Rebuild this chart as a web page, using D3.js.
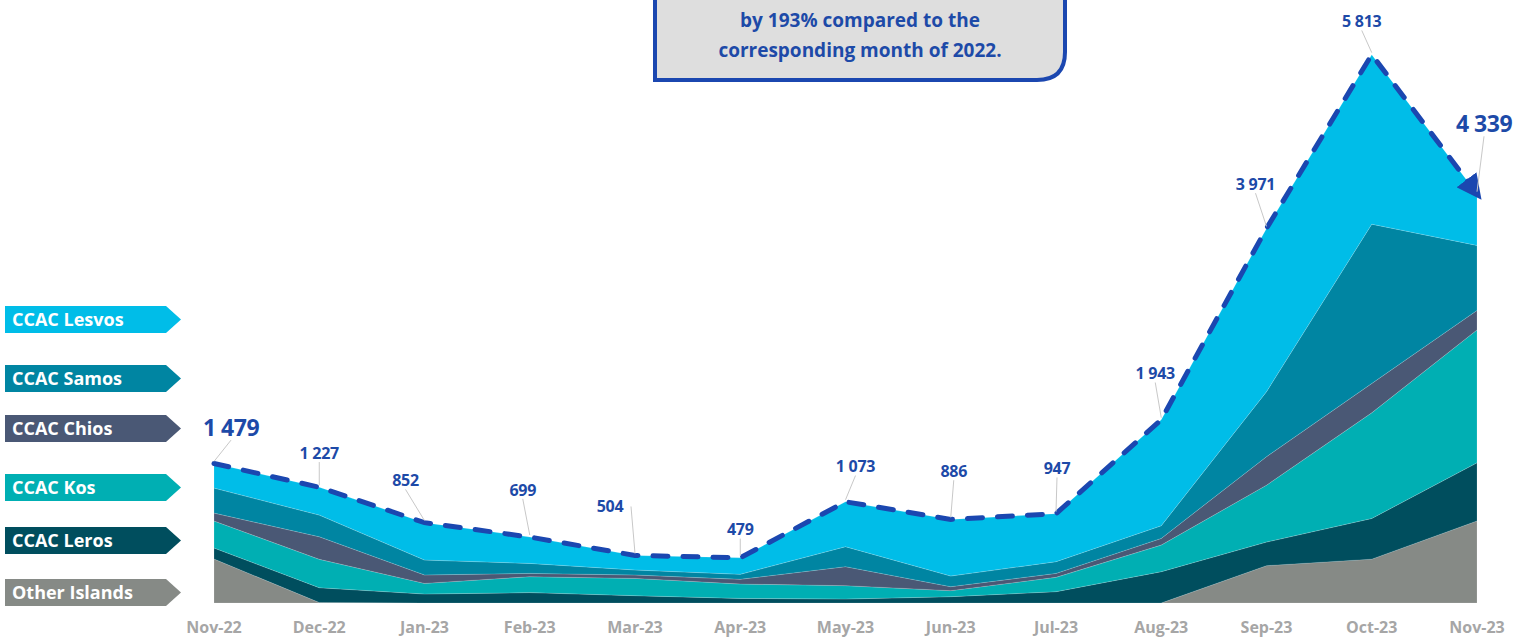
<!DOCTYPE html>
<html>
<head>
<meta charset="utf-8">
<script src="https://cdn.jsdelivr.net/npm/d3@7"></script>
<style>
  html, body { margin: 0; padding: 0; background: #fff; }
  svg { display: block; font-family: "Open Sans", Lato, sans-serif; }
</style>
</head>
<body>
<svg id="chart" width="1515" height="639"></svg>
<script>
// months on the x axis
const months = ["Nov-22", "Dec-22", "Jan-23", "Feb-23", "Mar-23", "Apr-23", "May-23",
                "Jun-23", "Jul-23", "Aug-23", "Sep-23", "Oct-23", "Nov-23"];

// series (bottom to top of the stack)
const otherIslands = [466, 5, 0, 0, 0, 0, 0, 0, 0, 0, 396, 465, 870];
const ccacLeros    = [117, 157, 95, 110, 78, 49, 42, 67, 120, 332, 250, 431, 616];
const ccacKos      = [286, 301, 113, 169, 183, 152, 142, 64, 152, 282, 603, 1120, 1409];
const ccacChios    = [84, 239, 89, 35, 36, 50, 201, 42, 42, 71, 302, 311, 207];
const ccacSamos    = [265, 230, 158, 106, 53, 53, 212, 113, 124, 134, 689, 1689, 689];
const ccacLesvos   = [261, 295, 397, 279, 154, 175, 476, 600, 509, 1124, 1731, 1797, 548];

// totals shown above the line
const totals = [1479, 1227, 852, 699, 504, 479, 1073, 886, 947, 1943, 3971, 5813, 4339];

const seriesNames  = ["Other Islands", "CCAC Leros", "CCAC Kos", "CCAC Chios", "CCAC Samos", "CCAC Lesvos"];
const seriesValues = [otherIslands, ccacLeros, ccacKos, ccacChios, ccacSamos, ccacLesvos];
const seriesColors = ["#868a86", "#004e5e", "#00afb3", "#4a5875", "#0085a2", "#00bde8"];

// label placement offsets (dx, dy of label centre from the point)
const labelOffsets = [[17, -36], [0, -34], [-19, -42], [-7, -47], [-25, -49], [0, -28],
                      [10, -35], [3, -48], [1, -45], [-6, -46], [-11, -44], [-10, -33], [7, -70]];
const bigLabels = new Set([0, 12]);

const svg = d3.select("#chart");

const x = d3.scalePoint().domain(months).range([214, 1477]);
const y = d3.scaleLinear().domain([0, 6000]).range([603, 37]);

const fmt = v => d3.format(",")(v).replace(/,/g, " ");

// build rows for d3.stack
const rows = months.map((m, i) => {
  const r = { month: m };
  seriesNames.forEach((n, k) => { r[n] = seriesValues[k][i]; });
  return r;
});
const stacked = d3.stack().keys(seriesNames)(rows);

const area = d3.area()
  .x(d => x(d.data.month))
  .y0(d => y(d[0]))
  .y1(d => y(d[1]));

svg.append("g")
  .selectAll("path")
  .data(stacked)
  .enter().append("path")
  .attr("d", area)
  .attr("fill", (d, i) => seriesColors[i])
  .attr("stroke", "rgba(255,255,255,0.25)")
  .attr("stroke-width", 0.6);

// total line (dashed) with arrow at the end
const defs = svg.append("defs");
defs.append("marker")
  .attr("id", "arrow")
  .attr("viewBox", "0 0 10 10")
  .attr("refX", 7).attr("refY", 5)
  .attr("markerWidth", 5).attr("markerHeight", 5)
  .attr("markerUnits", "strokeWidth")
  .attr("orient", "auto")
  .append("path")
  .attr("d", "M0,0 L10,5 L0,10 Z")
  .attr("fill", "#1b47b0");

const line = d3.line()
  .x((d, i) => x(months[i]))
  .y(d => y(d));

svg.append("path")
  .datum(totals)
  .attr("d", line)
  .attr("fill", "none")
  .attr("stroke", "#1b47b0")
  .attr("stroke-width", 5)
  .attr("stroke-linecap", "round")
  .attr("stroke-dasharray", "15 15")
  .attr("marker-end", "url(#arrow)");

// leader lines and total labels
const lbl = svg.append("g");
totals.forEach((v, i) => {
  const px = x(months[i]), py = y(v);
  const [dx, dy] = labelOffsets[i];
  const lx = px + dx, ly = py + dy;
  const fs = bigLabels.has(i) ? 23 : 16;
  lbl.append("line")
    .attr("x1", px).attr("y1", py - 2)
    .attr("x2", lx + (i === 4 ? 21 : 0)).attr("y2", ly + (i === 4 ? 0 : fs * 0.55))
    .attr("stroke", "#c8c8c8")
    .attr("stroke-width", 1);
  lbl.append("text")
    .attr("x", lx).attr("y", ly)
    .attr("dy", "0.35em")
    .attr("text-anchor", "middle")
    .attr("font-size", fs)
    .attr("font-weight", 700)
    .attr("letter-spacing", bigLabels.has(i) ? -0.5 : -0.3)
    .attr("fill", "#1d4aa8")
    .text(fmt(v));
});

// month labels
svg.append("g")
  .selectAll("text")
  .data(months)
  .enter().append("text")
  .attr("x", d => x(d))
  .attr("y", 633)
  .attr("text-anchor", "middle")
  .attr("font-size", 16)
  .attr("font-weight", 700)
  .attr("fill", "#a6a6a6")
  .text(d => d);

// legend arrows
const legendTop = [579, 527, 474, 415, 365, 306];
const leg = svg.append("g");
seriesNames.forEach((n, i) => {
  const top = legendTop[i], h = 27, x0 = 5, x1 = 166, tip = 181;
  leg.append("path")
    .attr("d", `M${x0},${top} L${x1},${top} L${tip},${top + h / 2} L${x1},${top + h} L${x0},${top + h} Z`)
    .attr("fill", seriesColors[i]);
  leg.append("text")
    .attr("x", x0 + 7)
    .attr("y", top + h / 2)
    .attr("dy", "0.36em")
    .attr("font-size", 18)
    .attr("font-weight", 700)
    .attr("fill", "#fff")
    .text(n);
});

// callout box at the top (cut by the frame)
const bx0 = 655, bx1 = 1065, by0 = -20, by1 = 80, r = 28;
svg.append("path")
  .attr("d", `M${bx0},${by0} L${bx1},${by0} L${bx1},${by1 - r} Q${bx1},${by1} ${bx1 - r},${by1} L${bx0},${by1} Z`)
  .attr("fill", "#dedede")
  .attr("stroke", "#1b47b0")
  .attr("stroke-width", 4);

const calloutLines = ["by 193% compared to the", "corresponding month of 2022."];
svg.append("g")
  .selectAll("text")
  .data(calloutLines)
  .enter().append("text")
  .attr("x", 860)
  .attr("y", (d, i) => 20 + i * 30)
  .attr("dy", "0.35em")
  .attr("text-anchor", "middle")
  .attr("font-size", 19)
  .attr("font-weight", 700)
  .attr("fill", "#1d4aa8")
  .text(d => d);
</script>
</body>
</html>
